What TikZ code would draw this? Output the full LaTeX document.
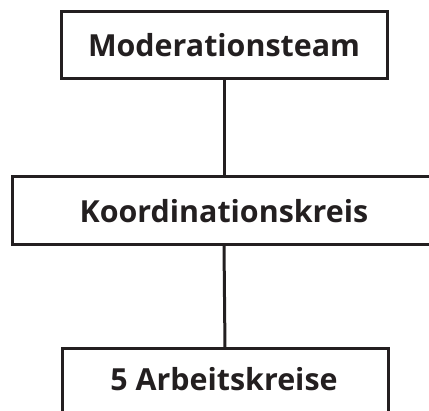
\documentclass[tikz,border=0pt]{standalone}
\usepackage{fontspec}
\setmainfont{Open Sans}
\definecolor{ink}{HTML}{231F20}
\begin{document}
\begin{tikzpicture}[x=1pt,y=-1pt,
  lbl/.style={font=\fontsize{30.4}{33}\selectfont\bfseries,text=ink},
  box/.style={draw=ink,line width=3pt,rectangle,inner sep=0pt,outer sep=0pt,lbl},
  link/.style={draw=ink,line width=3pt}]
\useasboundingbox (0,0) rectangle (429,411);
\clip (0,0) rectangle (429,411);
\node[box,minimum width=326pt,minimum height=67pt] (mod) at (224,45.5) {Moderationsteam};
\node[box,minimum width=424pt,minimum height=68pt] (koo) at (224,211) {Koordinationskreis};
\node[box,minimum width=326pt,minimum height=68pt] (ak) at (225,383) {};
\node[lbl,inner sep=0pt] (akt) at (224,379) {5 Arbeitskreise};
\draw[link] (mod.south) -- (koo.north);
\draw[link] (koo.south) -- (ak.north);
\end{tikzpicture}
\end{document}
